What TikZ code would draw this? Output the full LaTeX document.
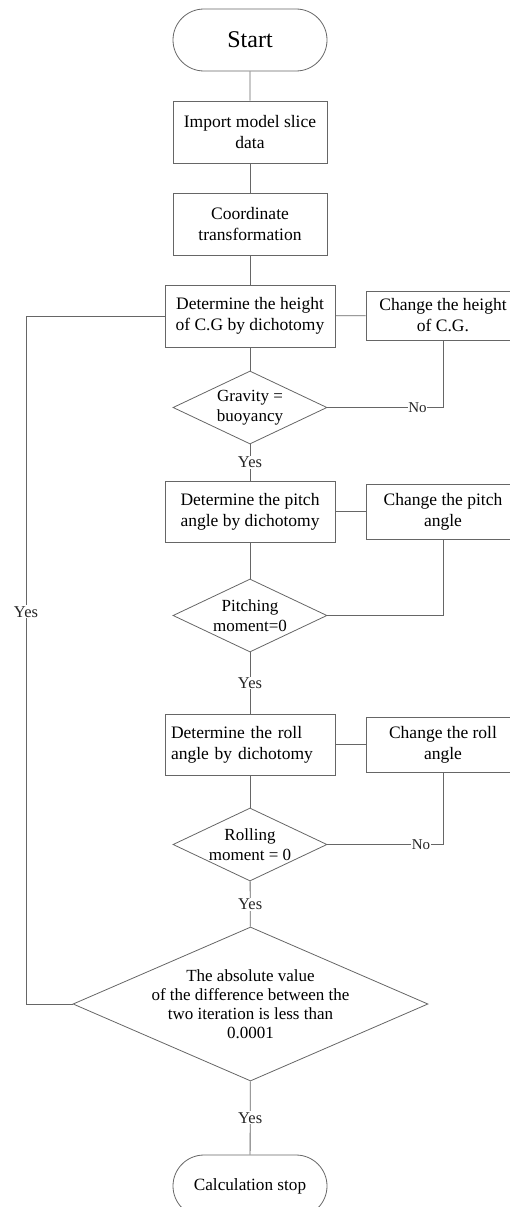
\documentclass[tikz,border=0pt]{standalone}
\usepackage{fontspec}
\setmainfont{Liberation Serif}
\usetikzlibrary{shapes.geometric,shapes.misc}
\begin{document}
\begin{tikzpicture}[x=1pt,y=-1pt,
  conn/.style={draw=black!60, line width=0.8pt},
  proc/.style={draw=black!60, line width=0.8pt, rectangle, inner sep=0pt, align=center, font=\fontsize{17.5}{21}\selectfont},
  term/.style={draw=black!60, line width=0.8pt, rounded rectangle, minimum width=154, minimum height=62, inner sep=0pt},
  dec/.style={draw=black!60, line width=0.8pt, diamond, inner sep=0pt},
  dtext/.style={align=center, font=\fontsize{17}{20}\selectfont},
  lbl/.style={fill=white, inner sep=1pt, text=black!85, font=\fontsize{16.5}{18}\selectfont},
  nolbl/.style={fill=white, inner sep=0.5pt, text=black!85, font=\fontsize{15}{16}\selectfont},
]
\useasboundingbox (0,0) rectangle (510,1207);
\clip (0,0) rectangle (510,1207);

\node[term, font=\fontsize{24}{28}\selectfont] (start) at (250,40) {Start};
\node[proc, minimum width=154, minimum height=62] (imp) at (250,132) {Import model slice\\data};
\node[proc, minimum width=154, minimum height=62] (coord) at (250,224) {Coordinate\\transformation};
\node[proc, minimum width=170, minimum height=62] (dh) at (250,316) {Determine the height\\of C.G by dichotomy};
\node[proc, minimum width=154, minimum height=49] (ch) at (443,315.5) {Change the height\\of C.G.};
\node[dec, minimum width=154, minimum height=73, label={[dtext]center:{Gravity =\\buoyancy}}] (d1) at (250,407.5) {};

\node[proc, minimum width=170, minimum height=61] (pb) at (250,511.5) {Determine the pitch\\angle by dichotomy};
\node[proc, minimum width=154, minimum height=55] (pc) at (443,511.5) {Change the pitch\\angle};
\node[dec, minimum width=154, minimum height=73, label={[dtext]center:{Pitching\\moment=0}}] (d2) at (250,615.5) {};

\node[proc, minimum width=170, minimum height=61, text width=158, align=left] (rb) at (250,744.5) {Determine the roll\\angle by dichotomy};
\node[proc, minimum width=154, minimum height=55] (rc) at (443,744.5) {Change the roll\\angle};
\node[dec, minimum width=154, minimum height=73, label={[dtext]center:{Rolling\\moment = 0}}] (d3) at (250,844.5) {};

\node[dec, minimum width=355, minimum height=154, label={[align=center, font=\fontsize{17}{19}\selectfont]center:{The absolute value\\of the difference between the\\two iteration is less than\\0.0001}}] (big) at (250.5,1004) {};

\node[term, font=\fontsize{17.2}{20}\selectfont] (stop) at (250,1186) {Calculation stop};

\coordinate (k1) at (443,407.5);
\coordinate (k3) at (443,844.5);
\coordinate (lx) at (26,0);

\draw[conn] (start) -- (imp);
\draw[conn] (imp) -- (coord);
\draw[conn] (coord) -- (dh);
\draw[conn] (dh) -- (d1);
\draw[conn] (dh) -- (ch);
\draw[conn] (d1.east) -- node[nolbl, pos=0.78] {No} (k1) -- (ch.south);
\draw[conn] (d1) -- node[lbl] {Yes} (pb);
\draw[conn] (pb) -- (pc);
\draw[conn] (pb) -- (d2);
\draw[conn] (pc.south) |- (d2.east);
\draw[conn] (d2) -- node[lbl] {Yes} (rb);
\draw[conn] (rb) -- (rc);
\draw[conn] (rb) -- (d3);
\draw[conn] (d3.east) -- node[nolbl, pos=0.81] {No} (k3) -- (rc.south);
\draw[conn] (d3) -- node[lbl] {Yes} (big);
\draw[conn] (big) -- node[lbl] {Yes} (stop);
\draw[conn] (big.west) -- (big.west -| lx) -- node[lbl, pos=0.57] {Yes} (dh.west -| lx) -- (dh.west);
\end{tikzpicture}
\end{document}
